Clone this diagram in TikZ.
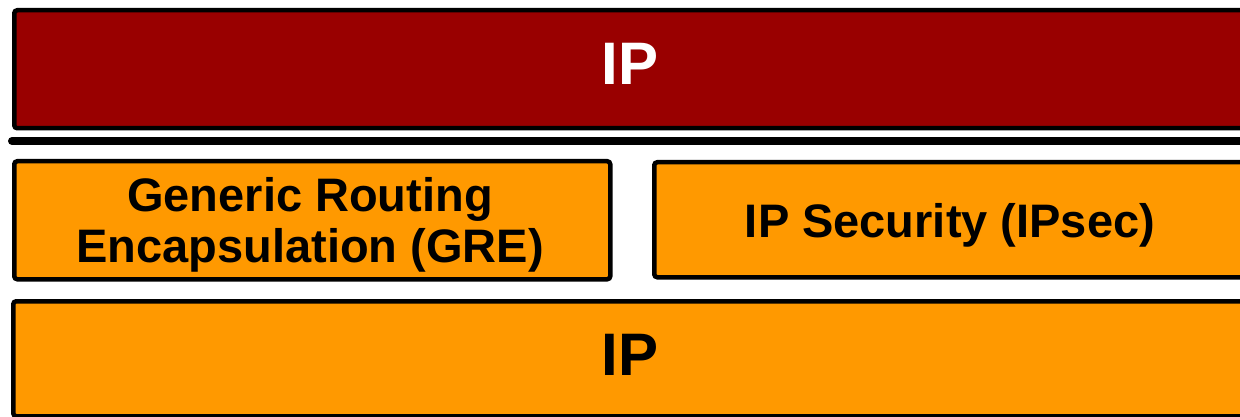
\documentclass[tikz,border=0pt]{standalone}
\usepackage{fontspec}
\setmainfont{Liberation Sans}
\definecolor{layerred}{HTML}{990000}
\definecolor{layerorange}{HTML}{FF9900}
\begin{document}
\begin{tikzpicture}[x=1pt,y=-1pt,
  layer/.style={draw=black,line width=4.5pt,rounded corners=3pt,inner sep=0pt,anchor=north west},
  biglabel/.style={anchor=base,inner sep=0pt,font=\bfseries\fontsize{60}{72}\selectfont},
  midlabel/.style={anchor=base,inner sep=0pt,align=center,font=\bfseries\fontsize{47}{51}\selectfont}]
\useasboundingbox[fill=white] (0,0) rectangle (1240,417);
% upper IP layer
\node[layer,fill=layerred,minimum width=1238pt,minimum height=118pt] (iptop) at (12,8) {};
\node[biglabel,text=white] (iptoplbl) at (630,85) {IP};
% separator bar
\coordinate (barL) at (12,141);
\coordinate (barR) at (1260,141);
\draw[line width=8pt,line cap=round] (barL) -- (barR);
% tunnelling protocols
\node[layer,fill=layerorange,minimum width=596pt,minimum height=118pt] (gre) at (12,159) {};
\node[midlabel] (grelbl) at (310,262) {Generic Routing\\Encapsulation (GRE)};
\node[layer,fill=layerorange,minimum width=598pt,minimum height=115pt] (ipsec) at (652,160) {};
\node[midlabel] (ipseclbl) at (950,237) {IP Security (IPsec)};
% lower IP layer
\node[layer,fill=layerorange,minimum width=1239pt,minimum height=115pt] (ipbot) at (11,299) {};
\node[biglabel,text=black] (ipbotlbl) at (630,375) {IP};
\end{tikzpicture}
\end{document}
